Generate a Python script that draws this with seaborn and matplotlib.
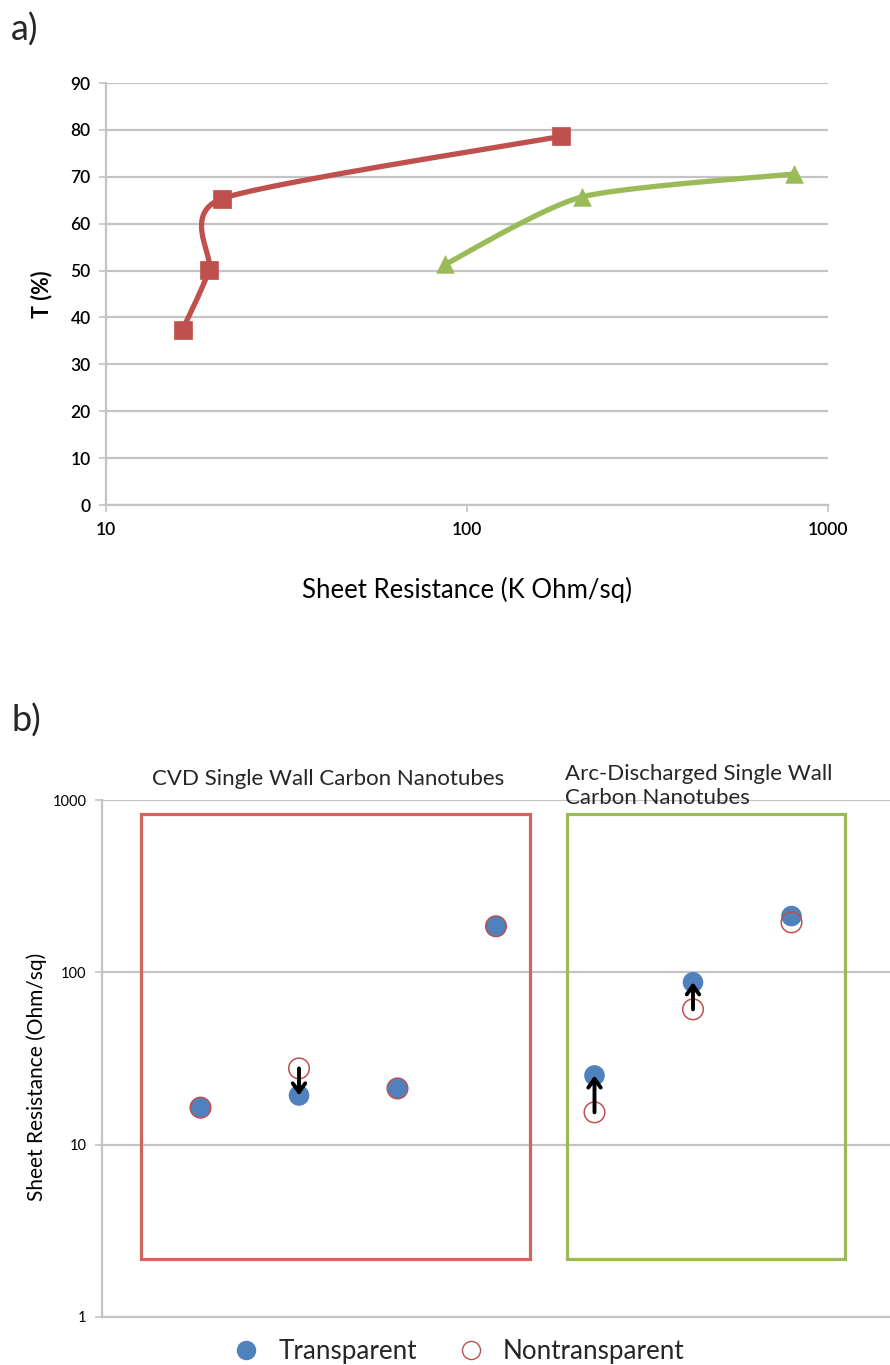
import numpy as np
import matplotlib
matplotlib.use("Agg")
import matplotlib.pyplot as plt
import seaborn as sns
from matplotlib.patches import Rectangle
from matplotlib.lines import Line2D

# ---------------- data ----------------
# panel a: transmittance vs sheet resistance
cvd_res = [16.3, 19.3, 20.9, 182]
cvd_T = [37.4, 50.2, 65.3, 78.6]
arc_res = [87, 208, 805]
arc_T = [51.3, 65.7, 70.6]
a_xticks = [10, 100, 1000]
a_yticks = [0, 10, 20, 30, 40, 50, 60, 70, 80, 90]

# panel b: sheet resistance per sample
sample_idx = [1, 2, 3, 4, 5, 6, 7]
transparent = [16.4, 19.3, 21.2, 185, 25.2, 87.5, 212]
nontransparent = [16.4, 27.7, 21.2, 185, 15.4, 61, 195]
b_yticks = [1, 10, 100, 1000]
legend_labels = ["Transparent", "Nontransparent"]
group_titles = ["CVD Single Wall Carbon Nanotubes",
                "Arc-Discharged Single Wall\nCarbon Nanotubes"]

# ---------------- style ----------------
W, H = 890, 1365
sns.set_theme(style="white")
plt.rcParams["font.family"] = ["Lato", "DejaVu Sans"]
GRID = "#C4C4C4"
RED = "#C0504D"
GREEN = "#9BBB59"
BLUE = "#4F81BD"

fig = plt.figure(figsize=(W / 100, H / 100), dpi=100)
axA = fig.add_axes([106 / W, 1 - 505 / H, (828 - 106) / W, (505 - 83) / H])
axB = fig.add_axes([102 / W, 1 - 1317 / H, (890 - 102) / W, (1317 - 800) / H])

# pixel scale for Excel-like smoothing
sx = (828 - 106) / 2.0   # px per decade
sy = (505 - 83) / 90.0   # px per unit
TENSION = 1 / 9.0


def smooth(xs, ys, n=60):
    P = np.column_stack([np.log10(xs) * sx, np.asarray(ys, float) * sy])
    m = len(P)
    out = []
    for i in range(m - 1):
        p0 = P[max(i - 1, 0)]
        p1 = P[i]
        p2 = P[i + 1]
        p3 = P[min(i + 2, m - 1)]
        c1 = p1 + (p2 - p0) * TENSION
        c2 = p2 - (p3 - p1) * TENSION
        t = np.linspace(0, 1, n)[:, None]
        seg = (1 - t) ** 3 * p1 + 3 * (1 - t) ** 2 * t * c1 + 3 * (1 - t) * t ** 2 * c2 + t ** 3 * p2
        out.append(seg if i == 0 else seg[1:])
    S = np.vstack(out)
    return 10 ** (S[:, 0] / sx), S[:, 1] / sy


# ---------------- panel a ----------------
for xs, ys, col, mk, ms in [(cvd_res, cvd_T, RED, "s", 160),
                            (arc_res, arc_T, GREEN, "^", 160)]:
    cx, cy = smooth(xs, ys)
    sns.lineplot(x=cx, y=cy, sort=False, estimator=None, color=col,
                 lw=3.8, ax=axA, zorder=3)
    sns.scatterplot(x=xs, y=ys, marker=mk, s=ms, color=col,
                    edgecolor=col, linewidth=0.5, ax=axA, zorder=4)

axA.set_xscale("log")
axA.set_xlim(10, 1000)
axA.set_ylim(0, 90)
axA.set_xticks(a_xticks)
axA.set_xticklabels([str(v) for v in a_xticks])
axA.xaxis.set_minor_locator(matplotlib.ticker.NullLocator())
axA.set_yticks(a_yticks)
axA.set_yticklabels([str(v) for v in a_yticks])
axA.yaxis.grid(True, color=GRID, lw=1.6)
axA.xaxis.grid(False)
for s in ["top", "right"]:
    axA.spines[s].set_visible(False)
for s in ["left", "bottom"]:
    axA.spines[s].set_color(GRID)
    axA.spines[s].set_linewidth(1.6)
axA.tick_params(axis="both", which="major", direction="out", length=5,
                width=1.2, color=GRID, labelsize=12.5, labelcolor="black",
                left=True, bottom=True)
axA.tick_params(axis="y", pad=6)
axA.tick_params(axis="x", pad=7)
for lab in axA.get_xticklabels() + axA.get_yticklabels():
    lab.set_fontweight("semibold")
axA.set_xlabel("Sheet Resistance (K Ohm/sq)", fontsize=18.5, color="black")
axA.xaxis.set_label_coords(0.5, -(577 - 505) / 422)
axA.set_ylabel("T (%)", fontsize=15.5, fontweight="bold", color="black")
axA.yaxis.set_label_coords(-(106 - 52) / 722, 0.5)

fig.text(11 / W, 1 - 30 / H, "a)", fontsize=26, va="center", ha="left")
fig.text(11 / W, 1 - 721 / H, "b)", fontsize=26, va="center", ha="left")

# ---------------- panel b ----------------
axB.add_patch(Rectangle((0.40, 2.17), 4.35 - 0.40, 829 - 2.17, fill=False,
                        ec="#D0645F", lw=2.3, zorder=2))
axB.add_patch(Rectangle((4.72, 2.17), 7.54 - 4.72, 829 - 2.17, fill=False,
                        ec=GREEN, lw=2.3, zorder=2))

sns.scatterplot(x=sample_idx, y=transparent, color=BLUE, s=220,
                edgecolor="none", linewidth=0, ax=axB, zorder=4)
sns.scatterplot(x=sample_idx, y=nontransparent, marker="o", s=220,
                facecolors="none", edgecolor=RED, linewidth=1.1, ax=axB, zorder=5)

for xi, t, n in zip(sample_idx, transparent, nontransparent):
    if max(t, n) / min(t, n) > 1.2:
        axB.annotate("", xy=(xi, t), xytext=(xi, n),
                     arrowprops=dict(arrowstyle="->,head_length=0.45,head_width=0.32",
                                     lw=2.8, color="black", shrinkA=0, shrinkB=0,
                                     mutation_scale=14), zorder=6)

axB.set_yscale("log")
axB.set_ylim(1, 1000)
axB.set_xlim(0, 8)
axB.set_xticks([])
axB.set_yticks(b_yticks)
axB.set_yticklabels([str(v) for v in b_yticks])
axB.yaxis.set_minor_locator(matplotlib.ticker.NullLocator())
axB.yaxis.grid(True, color=GRID, lw=1.6)
axB.xaxis.grid(False)
for s in ["top", "right"]:
    axB.spines[s].set_visible(False)
for s in ["left", "bottom"]:
    axB.spines[s].set_color(GRID)
    axB.spines[s].set_linewidth(1.6)
axB.tick_params(axis="y", direction="out", length=5, width=1.2, color=GRID,
                labelsize=10.5, labelcolor="black", left=True, pad=6)
axB.set_ylabel("Sheet Resistance (Ohm/sq)", fontsize=15, color="black")
axB.yaxis.set_label_coords(-(102 - 47) / 788, (1317 - 1077) / 517)

fig.text(328 / W, 1 - 779 / H, group_titles[0], fontsize=16, ha="center", va="center")
fig.text(565 / W, 1 - 786 / H, group_titles[1], fontsize=16, ha="left", va="center",
         linespacing=1.25)

handles = [Line2D([], [], ls="", marker="o", ms=13, mfc=BLUE, mec=BLUE),
           Line2D([], [], ls="", marker="o", ms=13, mfc="none", mec=RED, mew=1.0)]
fig.legend(handles, legend_labels, loc="center", bbox_to_anchor=(459 / W, 1 - 1352 / H),
           ncol=2, frameon=False, fontsize=18.7, handletextpad=0.75, columnspacing=1.55,
           handlelength=1.0)

fig.savefig("out.png", dpi=100)
